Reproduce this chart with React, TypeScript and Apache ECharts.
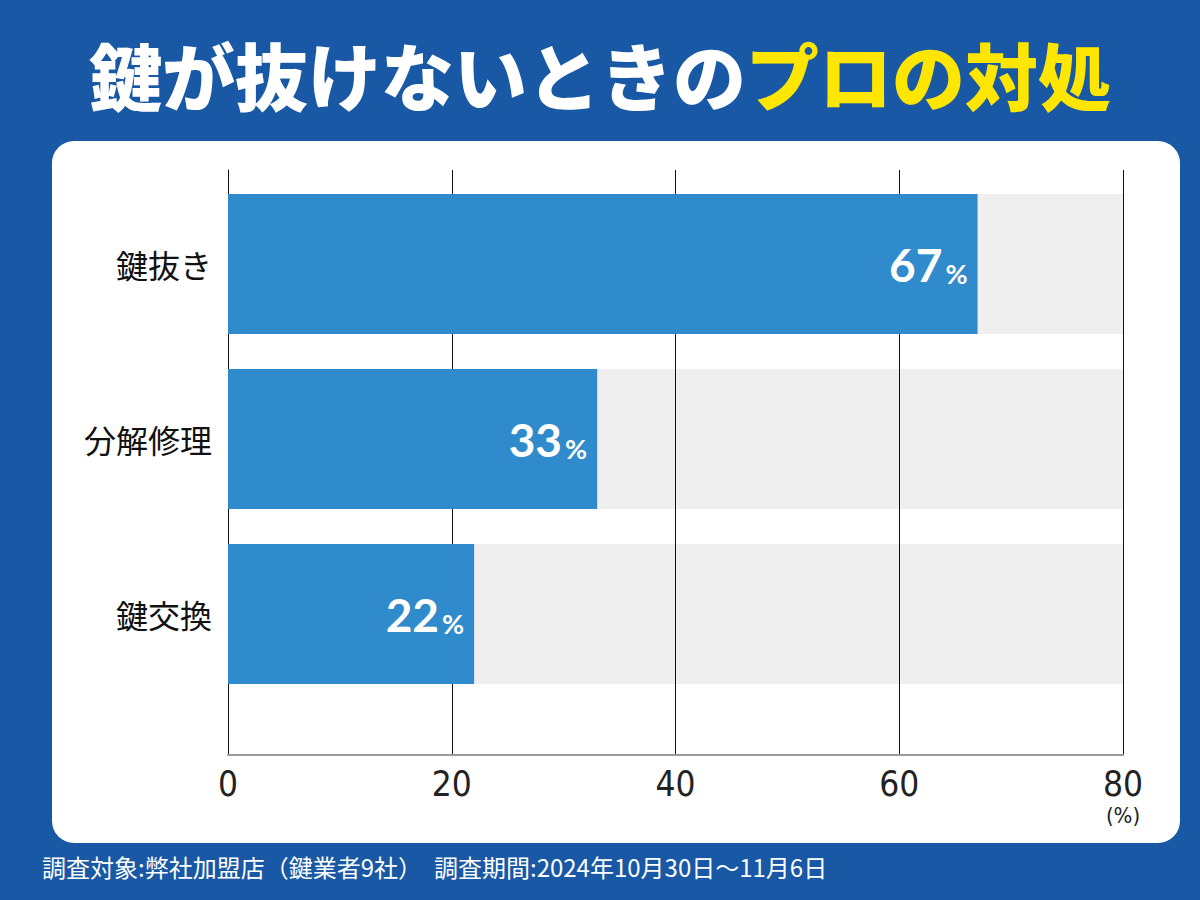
import React, { useEffect, useRef } from "react";
import * as echarts from "echarts";

// Survey answers: what locksmiths do when a key won't come out
const categories = ["鍵抜き", "分解修理", "鍵交換"];
const shares = [67, 33, 22];
const axisMax = 80;
const xTicks = [0, 20, 40, 60, 80];

const titleWhite = "鍵が抜けないときの";
const titleYellow = "プロの対処";
const unitLabel = "(%)";
const footNote = "調査対象:弊社加盟店（鍵業者9社）　調査期間:2024年10月30日〜11月6日";

const BG = "#1858a5";
const BAR = "#2f8bcb";
const TRACK = "#efefef";
const NARROW = "'Liberation Sans Narrow', 'DejaVu Sans Condensed', 'Liberation Sans', sans-serif";

export default function App() {
  const ref = useRef<HTMLDivElement>(null);

  useEffect(() => {
    if (!ref.current) return;
    const chart = echarts.init(ref.current, undefined, { renderer: "svg" });

    chart.setOption({
      animation: false,
      backgroundColor: BG,
      grid: [
        { left: 228, top: 170, width: 895, height: 585 },
        { left: 228, top: 176.5, width: 895, height: 525 },
      ],
      xAxis: [
        {
          gridIndex: 0,
          type: "value",
          min: xTicks[0],
          max: axisMax,
          interval: 20,
          z: 2,
          axisLine: { show: true, onZero: false, lineStyle: { color: "#9a9a9a", width: 2 } },
          axisTick: { show: false },
          splitLine: { show: true, lineStyle: { color: "#111", width: 1 } },
          axisLabel: {
            margin: 11,
            fontFamily: NARROW,
            fontSize: 35,
            color: "#222",
          },
        },
        {
          gridIndex: 1,
          type: "value",
          min: 0,
          max: axisMax,
          show: false,
        },
      ],
      yAxis: [
        {
          gridIndex: 0,
          type: "value",
          min: 0,
          max: 1,
          z: 2,
          axisLine: { show: true, lineStyle: { color: "#111", width: 1 } },
          axisTick: { show: false },
          axisLabel: { show: false },
          splitLine: { show: false },
        },
        {
          gridIndex: 1,
          type: "category",
          inverse: true,
          data: categories,
          axisLine: { show: false },
          axisTick: { show: false },
          axisLabel: {
            margin: 16,
            fontFamily: "Noto Sans CJK JP",
            fontSize: 32,
            color: "#111",
          },
        },
      ],
      series: [
        {
          type: "bar",
          xAxisIndex: 1,
          yAxisIndex: 1,
          data: categories.map(() => axisMax),
          barWidth: 140,
          itemStyle: { color: TRACK },
          silent: true,
          z: 1,
        },
        {
          type: "bar",
          xAxisIndex: 1,
          yAxisIndex: 1,
          data: shares,
          barWidth: 140,
          barGap: "-100%",
          itemStyle: { color: BAR },
          z: 3,
          label: {
            show: true,
            position: "insideRight",
            distance: 10,
            formatter: "{v|{c}}{p|%}",
            rich: {
              v: {
                fontFamily: "Lato",
                fontWeight: "bold",
                fontSize: 46,
                color: "#fff",
                verticalAlign: "bottom",
                lineHeight: 46,
              },
              p: {
                fontFamily: "Lato",
                fontWeight: "bold",
                fontSize: 27,
                color: "#fff",
                verticalAlign: "bottom",
                lineHeight: 40,
                padding: [0, 0, 0, 3],
              },
            },
          },
        },
      ],
      graphic: [
        {
          type: "rect",
          z: -10,
          shape: { x: 52, y: 141, width: 1128, height: 702, r: 22 },
          style: { fill: "#fff" },
          silent: true,
        },
        {
          type: "text",
          x: 600,
          y: 73,
          style: {
            text: `{w|${titleWhite}}{y|${titleYellow}}`,
            align: "center",
            verticalAlign: "middle",
            rich: {
              w: {
                fontFamily: "Noto Sans CJK JP",
                fontWeight: 900,
                fontSize: 73,
                fill: "#fff",
              },
              y: {
                fontFamily: "Noto Sans CJK JP",
                fontWeight: 900,
                fontSize: 73,
                fill: "#ffe600",
              },
            },
          },
        },
        {
          type: "text",
          x: 1123,
          y: 815,
          style: {
            text: unitLabel,
            align: "center",
            verticalAlign: "middle",
            fontFamily: NARROW,
            fontSize: 22,
            fill: "#222",
          },
        },
        {
          type: "text",
          x: 42,
          y: 866,
          style: {
            text: footNote,
            align: "left",
            verticalAlign: "middle",
            fontFamily: "Noto Sans CJK JP",
            fontSize: 24,
            fill: "#fff",
          },
        },
      ],
    });

    return () => chart.dispose();
  }, []);

  return (
    <div
      ref={ref}
      style={{ position: "fixed", left: 0, top: 0, width: 1200, height: 900 }}
    />
  );
}
